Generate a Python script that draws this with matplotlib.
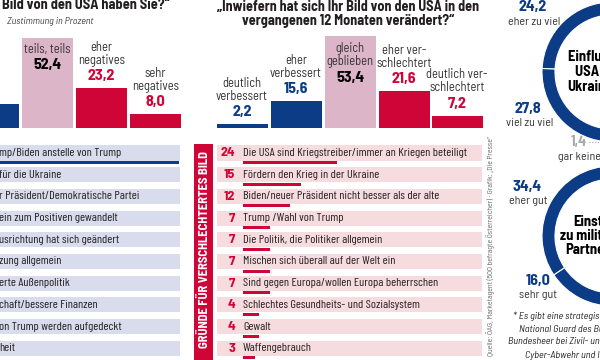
import matplotlib
matplotlib.use("Agg")
import matplotlib.pyplot as plt
from matplotlib.patches import Rectangle

plt.rcParams['font.family'] = ['Barlow Semi Condensed', 'DejaVu Sans']
NARROW = ['Barlow Condensed', 'DejaVu Sans']

NAVY = "#0c3c86"; RED = "#cf0538"; MAUVE = "#dcb5c8"
LAV = "#d9dcec"; ROSE = "#f7dcdf"; TXT = "#231f20"

# --- data -------------------------------------------------------------
q1_labels = ["eher\npositives", "teils, teils", "eher\nnegatives", "sehr\nnegatives"]
q1_values = [14.0, 52.4, 23.2, 8.0]
q1_kind = ["pos", "mid", "neg", "neg"]

q2_labels = ["deutlich\nverbessert", "eher\nverbessert", "gleich\ngeblieben",
             "eher ver-\nschlechtert", "deutlich ver-\nschlechtert"]
q2_values = [2.2, 15.6, 53.4, 21.6, 7.2]
q2_kind = ["pos", "pos", "mid", "neg", "neg"]

better_reasons = ["mp/Biden anstelle von Trump", "für die Ukraine",
                  "r Präsident/Demokratische Partei", "ein zum Positiven gewandelt",
                  "usrichtung hat sich geändert", "zung allgemein", "erte Außenpolitik",
                  "chaft/bessere Finanzen", "on Trump werden aufgedeckt", "heit"]
better_values = [61, 14, 11, 9, 8, 7, 6, 5, 5, 4]

worse_reasons = ["Die USA sind Kriegstreiber/immer an Kriegen beteiligt",
                 "Fördern den Krieg in der Ukraine",
                 "Biden/neuer Präsident nicht besser als der alte",
                 "Trump /Wahl von Trump",
                 "Die Politik, die Politiker allgemein",
                 "Mischen sich überall auf der Welt ein",
                 "Sind gegen Europa/wollen Europa beherrschen",
                 "Schlechtes Gesundheits- und Sozialsystem",
                 "Gewalt", "Waffengebrauch"]
worse_values = [24, 15, 12, 7, 7, 7, 7, 4, 4, 3]

infl_labels = ["eher zu viel", "viel zu viel", "gar keiner", "übrige"]
infl_values = [24.2, 27.8, 1.4, 46.6]
mil_labels = ["eher gut", "sehr gut", "übrige"]
mil_values = [34.4, 16.0, 49.6]

source = "Quelle: ÖAG, Marketagent (500 befragte Österreicher) · Grafik: „Die Presse“"

W, H = 600, 360
PT = 0.72  # points per pixel at dpi 100

fig = plt.figure(figsize=(6, 3.6), dpi=100)
ax = fig.add_axes([0, 0, 1, 1])
ax.set_xlim(0, W); ax.set_ylim(H, 0); ax.axis('off')

def fmt(v):
    return f"{v:.1f}".replace(".", ",")

# --- titles -----------------------------------------------------------
ax.text(2, 5, "Bild von den USA haben Sie?“", fontsize=10.3, fontweight='bold',
        color=TXT, va='center', ha='left')
ax.text(7, 22, "Zustimmung in Prozent", fontsize=7.2, style='italic', color='#444',
        va='center', ha='left')
ax.text(348, 14, "„Inwiefern hat sich Ihr Bild von den USA in den\nvergangenen 12 Monaten verändert?“",
        fontsize=10.2, fontweight='bold', color=TXT, va='center', ha='center', linespacing=1.05)

# --- bar charts -------------------------------------------------------
base_px, px_per = 128, 1.72
axb = fig.add_axes([0, (H - base_px) / H, 1, base_px / H])
axb.set_xlim(0, W); axb.set_ylim(0, base_px / px_per); axb.axis('off')
colmap = {"pos": NAVY, "mid": MAUVE, "neg": RED}

def bar_chart(xs, labels, values, kinds):
    axb.bar(xs, values, width=51, color=[colmap[k] for k in kinds], clip_on=False)
    for x, lab, v, k in zip(xs, labels, values, kinds):
        n = lab.count("\n") + 1
        if k == "mid":
            loff = -(12 + 7.25 * (n - 1)); voff = -(27 + 14.5 * (n - 1)); vcol = "black"
        else:
            voff = 12; loff = 27 + 7.25 * (n - 1); vcol = colmap[k]
        axb.annotate(lab, (x, v), xytext=(0, loff * PT), textcoords='offset points',
                     ha='center', va='center', fontsize=9, color='#333', linespacing=1.0)
        axb.annotate(fmt(v), (x, v), xytext=(0, voff * PT), textcoords='offset points',
                     ha='center', va='center', fontsize=11.5, fontweight='bold', color=vcol)

bar_chart([-6.5, 47.5, 101.5, 155.5], q1_labels, q1_values, q1_kind)
bar_chart([242, 296, 350, 404, 457], q2_labels, q2_values, q2_kind)

# --- reason lists -----------------------------------------------------
row0, pitch, unit = 153, 21.7, 3.9

def list_axes(x0):
    a = fig.add_axes([0, 0, 1, 1])
    a.set_xlim(-x0 / unit, (W - x0) / unit)
    a.set_ylim((H - row0) / pitch, -row0 / pitch)
    a.axis('off')
    return a

axl = list_axes(-59)
for i, (t, v) in enumerate(zip(better_reasons, better_values)):
    axl.add_patch(Rectangle(((-85 + 59) / unit, i - 0.35), 265 / unit, 0.7, color=LAV, lw=0))
    axl.barh(i + 0.44, v, height=0.14, left=0, color=NAVY)
    axl.text((-1 + 59) / unit, i, t, fontsize=8.8, family=NARROW, color=TXT,
             va='center', ha='left')

axr = list_axes(243)
for i, (t, v) in enumerate(zip(worse_reasons, worse_values)):
    axr.add_patch(Rectangle((-26 / unit, i - 0.35), 265 / unit, 0.7, color=ROSE, lw=0))
    axr.barh(i + 0.44, v, height=0.14, left=0, color=RED)
    axr.text(-8 / unit, i, str(v), fontsize=10, fontweight='bold', color=RED,
             va='center', ha='right')
    axr.text(0, i, t, fontsize=8.8, family=NARROW, color=TXT, va='center', ha='left')

ax.add_patch(Rectangle((194, 144), 19, 216, color=RED, lw=0))
ax.text(203.5, 250, "GRÜNDE FÜR VERSCHLECHTERTES BILD", rotation=90, color='white',
        fontsize=9, fontweight='bold', ha='center', va='center')
ax.text(491, 246, source, rotation=90, fontsize=5.6, color='#666', ha='center', va='center')

# --- donuts -----------------------------------------------------------
def donut(cx, cy, r, values, colors):
    a = fig.add_axes([(cx - r) / W, (H - cy - r) / H, 2 * r / W, 2 * r / H])
    a.pie(values, colors=colors, startangle=90, counterclock=True, radius=1,
          wedgeprops=dict(width=13 / r, edgecolor='white', linewidth=0.8))
    a.set_xlim(-1, 1); a.set_ylim(-1, 1)
    return a

donut(612, 72, 70, infl_values, [NAVY, NAVY, "#bbbbbb", "#8fa8cc"])
donut(612, 236, 70, mil_values, [NAVY, NAVY, "#8fa8cc"])

ax.text(533, 7, fmt(infl_values[0]), fontsize=11.5, fontweight='bold', color=NAVY, ha='center', va='center')
ax.text(534, 22, infl_labels[0], fontsize=8.6, color='#333', ha='center', va='center')
ax.text(528, 109, fmt(infl_values[1]), fontsize=11.5, fontweight='bold', color=NAVY, ha='center', va='center')
ax.text(530, 123, infl_labels[1], fontsize=8.6, color='#333', ha='center', va='center')
ax.text(579, 142, fmt(infl_values[2]), fontsize=10.5, fontweight='bold', color='#aaaaaa', ha='center', va='center')
ax.plot([589, 600], [142, 142], ls=(0, (1, 1.5)), color='#aaaaaa', lw=0.8)
ax.text(581, 157, infl_labels[2], fontsize=8.6, color='#333', ha='center', va='center')

ax.text(527, 187, fmt(mil_values[0]), fontsize=11.5, fontweight='bold', color=NAVY, ha='center', va='center')
ax.text(528, 201, mil_labels[0], fontsize=8.6, color='#333', ha='center', va='center')
ax.text(538, 281, fmt(mil_values[1]), fontsize=11.5, fontweight='bold', color=NAVY, ha='center', va='center')
ax.text(538, 295, mil_labels[1], fontsize=8.6, color='#333', ha='center', va='center')

for x, y, t in [(568, 57, "Einfluss der"), (575, 72, "USA auf den"), (567, 87, "Ukraine-Krieg")]:
    ax.text(x, y, t, fontsize=10.5, fontweight='bold', color='black', ha='left', va='center')
for x, y, t in [(573, 222, "Einstellung"), (560, 236, "zu militärischer"), (565, 250, "Partnerschaft")]:
    ax.text(x, y, t, fontsize=10.5, fontweight='bold', color='black', ha='left', va='center')

foot = [(513, 316, "* Es gibt eine strategische Partnerschaft zwischen der"),
        (519, 329, "National Guard des Bundesstaats Vermont und dem"),
        (508, 342, "Bundesheer bei Zivil- und Katastrophenschutz sowie"),
        (525, 355, "Cyber-Abwehr und Informationssicherheit.")]
for x, y, t in foot:
    ax.text(x, y, t, fontsize=7.3, style='italic', color='#222', ha='left', va='center')

fig.savefig("out.png", dpi=100)
